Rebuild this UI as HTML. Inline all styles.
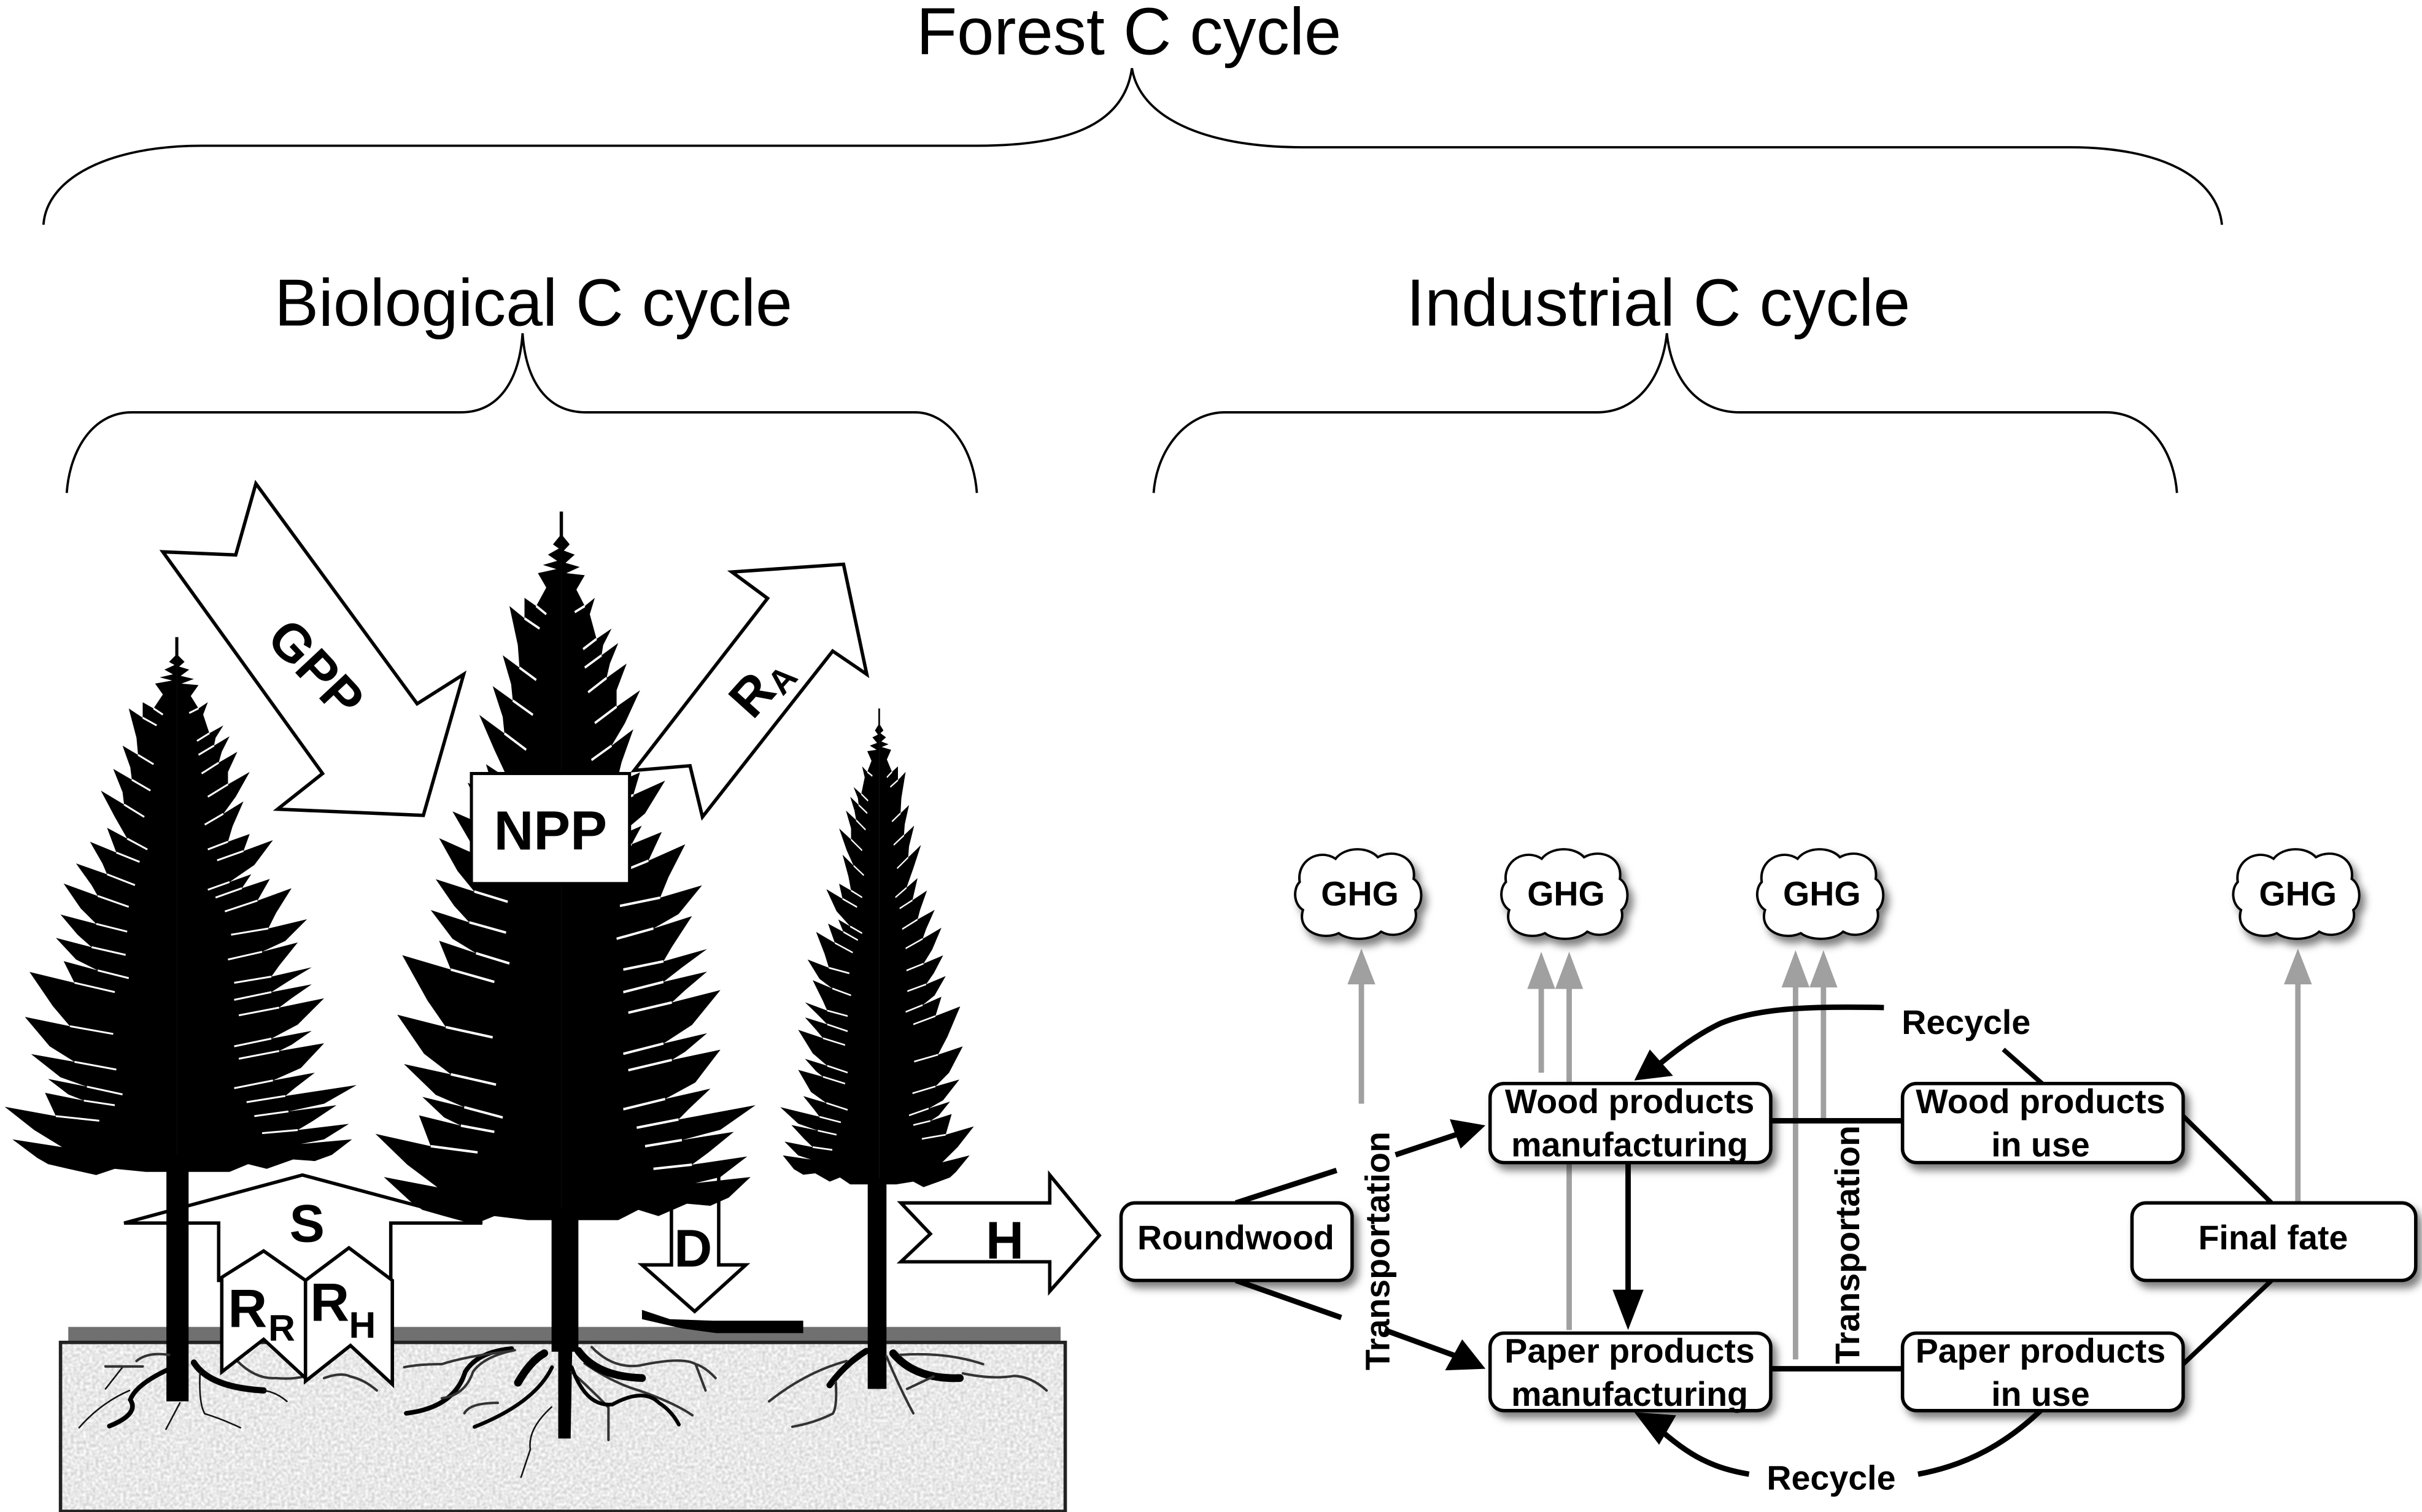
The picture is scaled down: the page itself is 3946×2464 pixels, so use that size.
<!DOCTYPE html>
<html><head><meta charset="utf-8"><title>Forest C cycle</title>
<style>
html,body{margin:0;padding:0;background:#fff}
svg{display:block;width:3946px;height:2464px}
text{font-family:"Liberation Sans",sans-serif;fill:#000}
.b{font-weight:bold}
.n{font-weight:normal;font-size:43px}
.l{font-weight:bold;font-size:22px;text-anchor:middle}
.a{font-weight:bold;font-size:34px;text-anchor:middle}
.ar{fill:#fff;stroke:#000;stroke-width:2.2;stroke-linejoin:miter}
.br{fill:none;stroke:#000;stroke-width:1.5}
.box{fill:#fff;stroke:#000;stroke-width:2.2;filter:url(#sh)}
.g{stroke:#a0a0a0;stroke-width:3.5;fill:none}
.gh{fill:#a0a0a0}
.k{stroke:#000;stroke-width:3.5;fill:none}
.r1{stroke:#111;fill:none;stroke-linecap:round;stroke-width:1}
.r15{stroke:#333;fill:none;stroke-linecap:round;stroke-width:1.6}
.r2{stroke:#000;fill:none;stroke-linecap:round;stroke-width:3}
.r3{stroke:#000;fill:none;stroke-linecap:round;stroke-width:5}
</style></head><body>
<svg viewBox="0 0 1562 975.4" xmlns="http://www.w3.org/2000/svg">
<defs>
<filter id="sh" x="-20%" y="-20%" width="140%" height="150%"><feDropShadow dx="3" dy="4" stdDeviation="2.5" flood-color="#000" flood-opacity=".5"/></filter>
<filter id="soil" x="0" y="0" width="100%" height="100%" color-interpolation-filters="sRGB"><feTurbulence type="fractalNoise" baseFrequency="0.5" numOctaves="1" seed="4"/><feColorMatrix type="matrix" values=".3 0 0 0 .76  .3 0 0 0 .76  .3 0 0 0 .76  0 0 0 0 1"/></filter>
<g id="tree">
<path d="M0,0 L1,0 L1,12 L5,16 L1.5,19 L8,21 L2.5,25 L11,27 L3,30 L14,31 L9,38 L14,46 L20,42 L17,50 L21,62 L30,57 L25,65 L24,70 L34,64 L29,74 L27,81 L39,74 L33,87 L33,95 L47,87 L38,103 L30,114 L43,106 L36,122 L33,132 L47,127 L43,138 L62,131 L50,147 L34,158 L48,153 L42,162 L60,156 L52,170 L74,162 L64,178 L59,188 L84,182 L70,196 L55,203 L78,197 L66,212 L61,219 L87,213 L72,222 L61,229 L87,224 L74,233 L66,239 L95,233 L78,250 L61,259 L87,254 L74,263 L66,267 L95,262 L80,278 L62,286 L89,281 L76,291 L70,296 L116,289 L95,301 L72,306 L103,302 L88,312 L78,318 L111,314 L95,324 L80,327 L113,324 L100,334 L89,338 L75,337 L58,343 L46,340 L34,345 L0,345 Z"/>
<path d="M0,0 L-1,0 L-1,12 L-5,16 L-1.5,18 L-8,21 L-2.5,24 L-11,26 L-3,28 L-14,30 L-9,37 L-15,46 L-22,42 L-22,52 L-31,46 L-26,65 L-25,76 L-35,70 L-30,84 L-29,92 L-41,85 L-35,100 L-34,108 L-49,99 L-40,116 L-32,130 L-45,123 L-39,139 L-56,132 L-48,146 L-45,153 L-65,146 L-55,160 L-51,167 L-73,159 L-62,175 L-52,185 L-75,179 L-64,192 L-55,200 L-78,194 L-65,208 L-51,215 L-73,209 L-66,223 L-95,216 L-80,238 L-69,251 L-98,245 L-82,264 L-66,274 L-94,269 L-75,284 L-58,290 L-83,285 L-70,295 L-60,299 L-85,294 L-78,309 L-111,303 L-92,318 L-74,329 L-106,324 L-90,336 L-83,340 L-70,343 L-52,347 L-40,343 L-20,345 L0,345 Z"/>
<path fill="none" stroke="#fff" stroke-width="1.2" d="M14,46L8,49 M21,62L13,67 M24,70L14,76 M27,81L16,88 M33,95L20,103 M30,114L18,121 M33,132L20,137 M43,138L26,144 M34,158L20,163 M42,162L25,168 M52,170L31,177 M59,188L35,192 M55,203L33,208 M61,219L37,223 M61,229L37,234 M66,239L40,244 M61,259L37,264 M66,267L40,272 M62,286L37,291 M70,296L45,300 M72,306L50,309 M78,318L55,320 M-15,46L-9,50 M-22,52L-13,57 M-25,76L-15,82 M-29,92L-17,99 M-34,108L-21,116 M-32,130L-19,137 M-39,139L-24,145 M-45,153L-27,160 M-51,167L-31,174 M-52,185L-32,190 M-55,200L-33,205 M-51,215L-31,220 M-66,223L-40,229 M-69,251L-41,256 M-66,274L-39,279 M-58,290L-35,295 M-60,299L-40,302 M-78,309L-50,312"/>
</g>
<path id="cloud" d="M-36,-8 C-38,-22 -24,-30 -14,-23 C-8,-31 6,-31 12,-24 C22,-30 36,-24 34,-10 C40,-6 40,6 35,10 C38,22 24,30 14,24 C8,30 -6,30 -12,25 C-22,30 -38,24 -34,10 C-40,6 -40,-4 -36,-8 Z"/>
</defs>
<rect width="1562" height="975.4" fill="#fff"/>

<!-- titles and braces -->
<text class="n" x="591" y="35" textLength="274" lengthAdjust="spacingAndGlyphs">Forest C cycle</text>
<text class="n" x="177" y="210" textLength="334" lengthAdjust="spacingAndGlyphs">Biological C cycle</text>
<text class="n" x="907" y="210" textLength="325" lengthAdjust="spacingAndGlyphs">Industrial C cycle</text>
<path class="br" d="M28,145 C30,115 70,94 130,94 L630,94 C690,94 725,80 730,44 C735,75 775,95 840,95 L1335,95 C1395,95 1430,115 1433,145"/>
<path class="br" d="M43,318 C45,290 60,266 85,266 L297,266 C322,266 335,245 337,215 C339,245 352,266 378,266 L590,266 C612,266 628,290 630,318"/>
<path class="br" d="M744,318 C746,290 765,266 790,266 L1030,266 C1055,266 1072,245 1075,215 C1078,245 1095,266 1122,266 L1358,266 C1385,266 1402,290 1404,318"/>

<!-- soil -->
<rect x="44" y="856" width="640" height="10" fill="#707070"/>
<rect x="39" y="866" width="648" height="109" fill="#e6e6e6" filter="url(#soil)"/>
<rect x="39" y="866" width="648" height="109" fill="none" stroke="#222" stroke-width="2.2"/>

<!-- S arrow under trees -->
<path class="ar" d="M80,789 L195,758 L311,789 L252,789 L252,826 L141,826 L141,789 Z"/>
<!-- D arrow under tree -->
<path class="ar" d="M433,753 L463.5,753 L463.5,816 L481,816 L448,846 L414,816 L433,816 Z"/>

<!-- trees -->
<use href="#tree" transform="translate(114,411)"/>
<use href="#tree" transform="translate(362,330) scale(1.08,1.325)"/>
<use href="#tree" transform="translate(567,457) scale(-.55,.89)"/>
<rect x="107.300" y="745" width="14.300" height="159"/>
<rect x="355.700" y="780" width="17.300" height="92"/>
<rect x="559.600" y="760" width="12.100" height="136"/>

<!-- roots -->
<path class="r2" d="M114,881 Q88,892 84,903 Q90,912 70.500,920"/>
<path class="r3" style="stroke-width:4" d="M125,879 Q135,895 170,897"/>
<path class="r1" d="M170,897 Q178,898 185,904 M83.500,897 Q65,905 51,921 M116,905 L107,922 M129,885 Q128,905 132,912 Q142,915 155,921 M79,882 L68,896"/>
<path class="r15" d="M109,874 Q95,872 88,878 M68,881.500 L92,881.500 M153,878 Q165,890 178,889 Q188,890 196,888 M209,889 Q220,885 226,888 Q235,890 243,897"/>
<path d="M360,870 L369,870 L368,928 L360,928 Z"/>
<path class="r3" d="M351,873 Q342,878 334,892"/>
<path class="r2" d="M330,870 Q308,872 300,885 Q293,908 262,911.700"/>
<path class="r15" d="M332,871 Q312,875 305,885 Q300,900 285,902 M330,871.500 Q300,875 285,880 Q270,880 260.700,882 M381.600,869 Q395,883 412,881 Q440,875 448.600,880 Q455,882 461.500,889 M448.600,880 L455,897 M377,879.500 Q395,892 412,897 Q435,905 446.500,913 M368.700,885 Q385,900 392.400,908 L392.400,929 M299.500,911.700 Q303,905 321,905"/>
<path class="r2" style="stroke-width:2.4" d="M356,882 Q345,905 306,920.500 M368.700,882 Q378,908 395,906 Q415,895 425,905 Q433,910 437.800,919"/>
<path class="r3" d="M373,871.500 Q385,888 414,889"/>
<path class="r1" d="M355.700,907.700 Q340,922 342,935 L336,953"/>
<path class="r2" style="stroke-width:4" d="M558.700,871.500 Q545,880 535,893.600"/>
<path class="r3" d="M576,873 Q590,890 619,889"/>
<path class="r15" d="M546,878 Q520,885 496,904 M539,891.600 Q540,908 537,912 Q525,918 511,920.400 M580.600,874 Q610,872 634,880 M621,886 Q640,890 654,887.600 Q665,888 675,897 M571.700,875 Q580,895 589,911.700 M602,888 L585,896"/>

<!-- GPP -->
<path class="ar" d="M165,312 L152,358 L105,356 L208,499 L179,522 L273,526 L299,435 L269,454 Z"/>
<text class="a" transform="translate(204,431) rotate(47)" y="12">GPP</text>
<!-- RA -->
<path class="ar" d="M409,497 L495,386 L472,369 L544,364 L559,435 L537,420 L453,527 L445,494 Z"/>
<text class="a" transform="translate(490,442) rotate(-48)" y="12">R<tspan font-size="22" dy="4">A</tspan></text>
<!-- NPP -->
<rect x="304" y="499" width="102" height="71" fill="#fff" stroke="#000" stroke-width="2"/>
<text class="a" x="355" y="548" style="font-size:35.500px">NPP</text>

<!-- S, RR, RH -->
<text class="a" x="198" y="801">S</text>
<path class="ar" d="M143,824 L170,807 L197,826 L197,889 L170,864 L143,885 Z"/>
<path class="ar" d="M197,826 L225,805 L253,826 L253,893 L226,868 L197,891 Z"/>
<text class="b" x="147" y="856" font-size="35">R</text>
<text class="b" x="173" y="865" font-size="24">R</text>
<text class="b" x="200" y="852" font-size="35">R</text>
<text class="b" x="225" y="863" font-size="24">H</text>
<text class="a" x="447" y="817">D</text>
<path d="M414,845 L432,851 L460,852 L518,852 L518,860 L462,860 L440,857 L414,851 Z"/>
<!-- H -->
<path class="ar" d="M581,776 L677,776 L677,758 L709,797 L677,833 L677,814 L581,814 L600,796 Z"/>
<text class="a" x="648" y="812">H</text>

<!-- gray arrows -->
<path class="g" d="M878,712 L878,632 M994,692 L994,634 M1012,858 L1012,634 M1158,877 L1158,634 M1176,722 L1176,634 M1482,776 L1482,632"/>
<path class="gh" d="M869,635 L878,612 L887,635 Z M985,638 L994,614 L1003,638 Z M1003,638 L1012,614 L1021,638 Z M1149,637 L1158,613 L1167,637 Z M1167,637 L1176,613 L1185,637 Z M1473,635 L1482,612 L1491,635 Z"/>

<!-- black connectors -->
<path class="k" d="M1142,723 L1227,723 M1142,883 L1227,883"/>
<path class="k" style="stroke-width:3" d="M1408,720 L1465,776 M1408,880 L1465,826 M1292,677 L1317,699"/>
<path class="k" d="M797,776 L862,755 M900,745 L945,730 M797,826 L865,850 M893,858 L945,877"/>
<path d="M958,726 L935,722 L942,741 Z M958,883 L932,884 L943,864 Z"/>
<path class="k" d="M1050,750 L1050,838"/>
<path d="M1040,832 L1050,858 L1060,832 Z"/>
<path class="k" d="M1215,650 C1170,649 1135,650 1110,660 C1095,667 1080,678 1066,690"/>
<path d="M1054,697 L1064,677 L1079,694 Z"/>
<path class="k" d="M1316,910 C1295,930 1270,945 1237,951"/>
<path class="k" d="M1128,951 C1105,947 1090,940 1068,920"/>
<path d="M1054,911 L1081,913 L1070,932 Z"/>

<!-- boxes -->
<rect class="box" x="723" y="776" width="149" height="50" rx="9"/>
<rect class="box" x="961" y="699" width="181" height="51" rx="9"/>
<rect class="box" x="961" y="860" width="181" height="50" rx="9"/>
<rect class="box" x="1227" y="699" width="181" height="51" rx="9"/>
<rect class="box" x="1227" y="860" width="181" height="50" rx="9"/>
<rect class="box" x="1375" y="776" width="183" height="50" rx="9"/>
<text class="l" x="797" y="806">Roundwood</text>
<text class="l" x="1051" y="718">Wood products</text>
<text class="l" x="1051" y="746">manufacturing</text>
<text class="l" x="1051" y="879">Paper products</text>
<text class="l" x="1051" y="907">manufacturing</text>
<text class="l" x="1316" y="718">Wood products</text>
<text class="l" x="1316" y="746">in use</text>
<text class="l" x="1316" y="879">Paper products</text>
<text class="l" x="1316" y="907">in use</text>
<text class="l" x="1466" y="806">Final fate</text>
<text class="l" x="1268" y="667">Recycle</text>
<text class="l" x="1181" y="961">Recycle</text>
<text class="l" transform="translate(896,807) rotate(-90)">Transportation</text>
<text class="l" transform="translate(1199,803) rotate(-90)">Transportation</text>

<!-- clouds -->
<g fill="#fff" stroke="#000" stroke-width="1.500" style="filter:url(#sh)">
<use href="#cloud" transform="translate(876,577) scale(1.05,1)"/>
<use href="#cloud" transform="translate(1009,577) scale(1.05,1)"/>
<use href="#cloud" transform="translate(1174,577) scale(1.05,1)"/>
<use href="#cloud" transform="translate(1481,577) scale(1.05,1)"/>
</g>
<text class="l" x="877" y="584">GHG</text>
<text class="l" x="1010" y="584">GHG</text>
<text class="l" x="1175" y="584">GHG</text>
<text class="l" x="1482" y="584">GHG</text>
</svg>
</body></html>
